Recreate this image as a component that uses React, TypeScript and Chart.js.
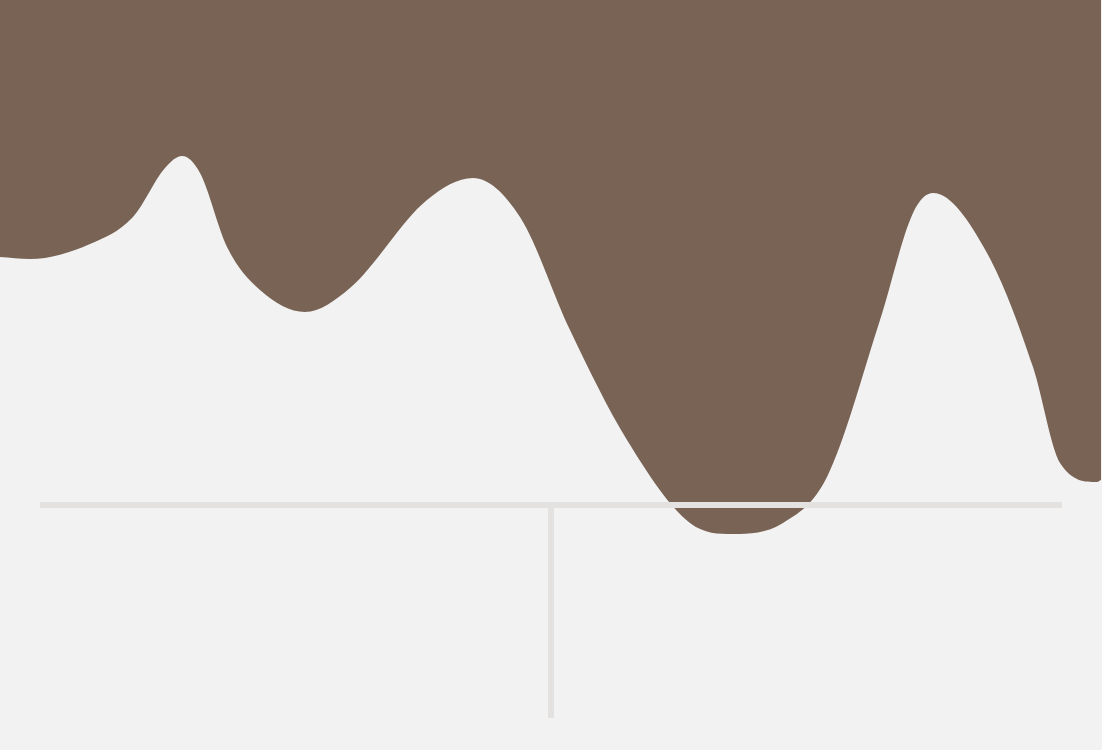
import { useEffect, useRef } from "react";
import Chart, { type ChartConfiguration } from "chart.js/auto";

// positions along the horizontal axis
const positions = [
	0, 30, 90, 133, 165, 182, 200, 227, 260, 305, 350, 427, 473, 520, 570, 627, 690, 733, 783, 827, 880, 913, 933, 987,
	1033, 1060, 1097, 1101,
];

// level of the surface at each position
const levels = [
	493, 491, 506, 533, 582, 594, 577, 503, 460, 438, 462, 550, 572, 533, 420, 310, 227, 216, 227, 273, 430, 537, 557,
	497, 383, 287, 268, 270,
];

// baseline and marker
const baselineX = [40, 1062];
const baselineLevel = 245;
const markerX = 551;
const markerLevels = [245, 32];

const App = () => {
	const chartRef = useRef<HTMLCanvasElement | null>(null);
	const chartInstanceRef = useRef<Chart | null>(null);

	useEffect(() => {
		document.body.style.margin = "0";
		if (!chartRef.current) return;

		if (chartInstanceRef.current) {
			chartInstanceRef.current.destroy();
		}

		const config: ChartConfiguration<"line"> = {
			type: "line",
			data: {
				datasets: [
					{
						data: baselineX.map((x) => ({ x, y: baselineLevel })),
						borderColor: "#e3e2e0",
						borderWidth: 6,
						borderCapStyle: "butt",
						pointRadius: 0,
						fill: false,
						order: 0,
					},
					{
						data: markerLevels.map((y) => ({ x: markerX, y })),
						borderColor: "#e3e2e0",
						borderWidth: 6,
						borderCapStyle: "butt",
						pointRadius: 0,
						fill: false,
						order: 1,
					},
					{
						data: positions.map((x, i) => ({ x, y: levels[i] })),
						borderWidth: 0,
						borderColor: "rgba(0,0,0,0)",
						backgroundColor: "#786355",
						pointRadius: 0,
						cubicInterpolationMode: "monotone",
						fill: "end",
						order: 2,
					},
				],
			},
			options: {
				animation: false,
				responsive: true,
				maintainAspectRatio: false,
				layout: { padding: 0 },
				scales: {
					x: { type: "linear", min: 0, max: 1102, display: false },
					y: { type: "linear", min: 0, max: 750, display: false },
				},
				plugins: {
					legend: { display: false },
					tooltip: { enabled: false },
				},
			},
		};

		chartInstanceRef.current = new Chart(chartRef.current, config);

		return () => {
			if (chartInstanceRef.current) {
				chartInstanceRef.current.destroy();
				chartInstanceRef.current = null;
			}
		};
	}, []);

	return (
		<div style={{ position: "fixed", left: 0, top: 0, width: 1102, height: 750, background: "#f2f2f2" }}>
			<canvas ref={chartRef} />
		</div>
	);
};

export default App;
